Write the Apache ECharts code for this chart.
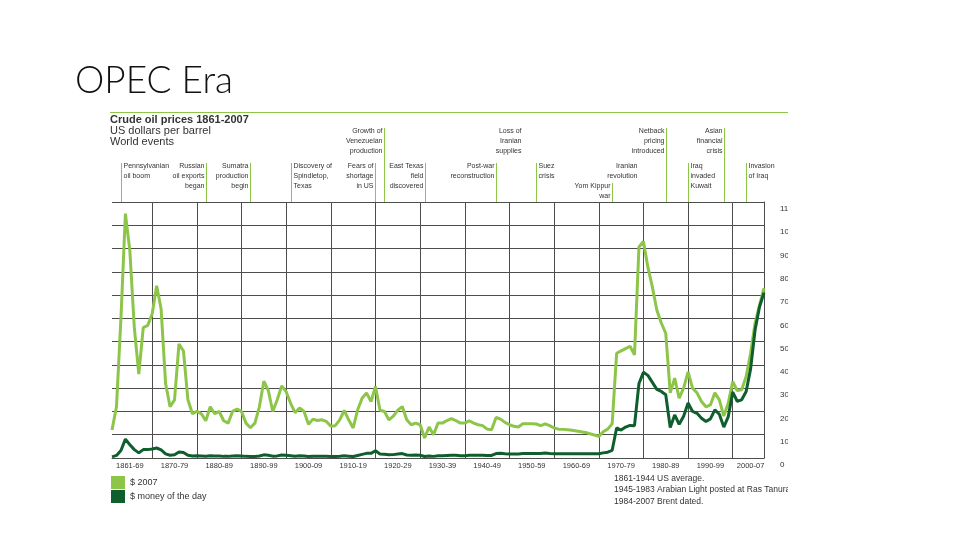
<!DOCTYPE html>
<html>
<head>
<meta charset="utf-8">
<title>OPEC Era</title>
<script src="https://cdn.jsdelivr.net/npm/echarts@6/dist/echarts.min.js"></script>
<style>
  html, body { margin: 0; padding: 0; background: #fff; }
  #chart { width: 960px; height: 540px; }
</style>
</head>
<body>
<div id="chart"></div>
<script>
// one category per year, 1861 .. 2007
const years = [];
for (let y = 1861; y <= 2007; y++) years.push(String(y));

// $ 2007 (light green)
const price2007 = [
  12, 22, 60, 105, 89, 56, 36, 56, 57,                        // 1861-69
  62, 74, 64, 32, 22, 25, 49, 46, 25, 19,                      // 1870s
  20, 19, 16, 22, 19, 20, 16, 15, 20, 21,                      // 1880s
  20, 15, 13, 15, 22, 33, 29, 20, 25, 31,                      // 1890s
  28.5, 23.5, 19.5, 21.5, 20, 14.5, 16.7, 16.1, 16.4, 15.7,    // 1900s
  13.6, 13.9, 16.4, 20.4, 16.4, 12.9, 20.6, 25.7, 27.9, 24.3,  // 1910s
  30.7, 20.6, 20, 16.4, 18, 20.6, 22.1, 16.4, 14.3, 15,        // 1920s
  14.3, 8.6, 13.3, 10, 15, 15, 16.1, 16.9, 16.1, 15,           // 1930s
  15, 16, 15, 14.3, 13.9, 12.4, 12.1, 17.4, 16.7, 15.3,        // 1940s
  14.3, 13.6, 13.3, 14.7, 14.7, 14.7, 14.6, 13.9, 14.7, 13.9,  // 1950s
  12.9, 12.4, 12.3, 12.1, 11.9, 11.6, 11.3, 11.0, 10.4, 9.9,   // 1960s
  9.3, 11.3, 12.4, 14.7, 45, 46, 47, 48, 44.3, 90.7,           // 1970s
  93, 82, 73.5, 63.6, 58, 53.6, 28, 34.3, 25.7, 30,            // 1980s
  37, 30, 28, 24.3, 22, 22.8, 28, 25, 18, 23.6,                // 1990s
  32.8, 29, 29.3, 35, 45, 58, 65.7, 73                         // 2000-07
];

// $ money of the day (dark green)
const priceMoneyOfDay = [
  0.5, 1.1, 3.2, 8.1, 5.7, 3.6, 2.2, 3.6, 3.6,
  3.9, 4.3, 3.5, 1.8, 1.2, 1.4, 2.6, 2.4, 1.2, 0.9,
  0.95, 0.9, 0.8, 1.0, 0.85, 0.9, 0.7, 0.7, 0.9, 0.95,
  0.9, 0.7, 0.6, 0.65, 0.85, 1.35, 1.2, 0.8, 0.9, 1.3,
  1.2, 1.0, 0.8, 0.95, 0.85, 0.6, 0.75, 0.7, 0.7, 0.7,
  0.6, 0.6, 0.75, 0.95, 0.8, 0.65, 1.1, 1.55, 2.0, 2.0,
  3.1, 1.75, 1.6, 1.35, 1.45, 1.7, 1.9, 1.3, 1.2, 1.3,
  1.2, 0.65, 0.9, 0.7, 1.0, 1.0, 1.1, 1.2, 1.15, 1.0,
  1.0, 1.15, 1.2, 1.2, 1.2, 1.05, 1.1, 1.9, 2.0, 1.8,
  1.7, 1.7, 1.7, 1.9, 1.9, 1.9, 1.9, 1.9, 2.1, 1.9,
  1.8, 1.8, 1.8, 1.8, 1.8, 1.8, 1.8, 1.8, 1.8, 1.8,
  1.8, 2.2, 2.5, 3.3, 12.9, 12, 13.3, 14, 13.9, 32,
  36.8, 35.5, 32.5, 29.5, 28.6, 27.2, 13.1, 18.5, 14.5, 17.9,
  23.6, 20, 19.2, 17.1, 15.7, 16.8, 20.7, 18.8, 13.3, 17.8,
  28.3, 24.4, 25, 28.6, 38.3, 55, 65, 71
];

// decade tick labels and the year each one sits on
const decadeLabels = ['1861-69', '1870-79', '1880-89', '1890-99', '1900-09', '1910-19', '1920-29',
  '1930-39', '1940-49', '1950-59', '1960-69', '1970-79', '1980-89', '1990-99', '2000-07'];
const decadeLabelYears = ['1865', '1875', '1885', '1895', '1905', '1915', '1925',
  '1935', '1945', '1955', '1965', '1975', '1985', '1995', '2004'];

// world events above the plot
const events = [
  { year: 1863, text: 'Pennsylvanian\noil boom', side: 'right', row: 'low' },
  { year: 1882, text: 'Russian\noil exports\nbegan', side: 'left', row: 'low' },
  { year: 1892, text: 'Sumatra\nproduction\nbegin', side: 'left', row: 'low' },
  { year: 1901, text: 'Discovery of\nSpindletop,\nTexas', side: 'right', row: 'low' },
  { year: 1920, text: 'Fears of\nshortage\nin US', side: 'left', row: 'low' },
  { year: 1922, text: 'Growth of\nVenezuelan\nproduction', side: 'left', row: 'high' },
  { year: 1931, text: 'East Texas\nfield\ndiscovered', side: 'left', row: 'low' },
  { year: 1947, text: 'Post-war\nreconstruction', side: 'left', row: 'low' },
  { year: 1953, text: 'Loss of\nIranian\nsupplies', side: 'left', row: 'high', noLine: true },
  { year: 1956, text: 'Suez\ncrisis', side: 'right', row: 'low' },
  { year: 1973, text: 'Yom Kippur\nwar', side: 'left', row: 'lower' },
  { year: 1979, text: 'Iranian\nrevolution', side: 'left', row: 'low', noLine: true },
  { year: 1985, text: 'Netback\npricing\nintroduced', side: 'left', row: 'high' },
  { year: 1990, text: 'Iraq\ninvaded\nKuwait', side: 'right', row: 'low' },
  { year: 1998, text: 'Asian\nfinancial\ncrisis', side: 'left', row: 'high' },
  { year: 2003, text: 'Invasion\nof Iraq', side: 'right', row: 'low' }
];

const footnotes = ['1861-1944 US average.', '1945-1983 Arabian Light posted at Ras Tanura.', '1984-2007 Brent dated.'];

const LIGHT = '#8cc548';
const DARK = '#0e5f2d';
const GRID = '#4d4d4d';
const TXT = '#333';
const SMALL = "'Liberation Sans Narrow', 'Liberation Sans', sans-serif";
const SANS = "'Liberation Sans', Arial, sans-serif";

const rowLayout = {
  high: { textTop: 126, lineTop: 128 },
  low: { textTop: 161, lineTop: 163 },
  lower: { textTop: 181, lineTop: 183 }
};

const chart = echarts.init(document.getElementById('chart'), null, { renderer: 'canvas' });

const option = {
  backgroundColor: '#fff',
  animation: false,
  title: [
    {
      text: 'OPEC Era', left: 70, top: 58,
      textStyle: { fontFamily: 'Lato, "Open Sans", sans-serif', fontWeight: 300, fontSize: 37, color: '#111' }
    },
    {
      text: 'Crude oil prices 1861-2007', left: 110, top: 114,
      textStyle: { fontFamily: SANS, fontWeight: 'bold', fontSize: 11, color: TXT },
      subtext: 'US dollars per barrel\nWorld events', itemGap: 0,
      subtextStyle: { fontFamily: SANS, fontSize: 11, lineHeight: 11, color: TXT },
      padding: 0
    }
  ],
  legend: {
    orient: 'vertical', left: 111, top: 476, padding: 0,
    icon: 'rect', itemWidth: 14, itemHeight: 13, itemGap: 1,
    textStyle: { fontFamily: SANS, fontSize: 9, color: TXT },
    data: ['$ 2007', '$ money of the day']
  },
  grid: { left: 112, right: 196, top: 202, bottom: 82 },
  xAxis: {
    type: 'category',
    data: years,
    boundaryGap: false,
    axisLine: { show: true, lineStyle: { color: GRID, width: 1 } },
    axisTick: { show: false },
    axisLabel: {
      interval: (i, v) => decadeLabelYears.indexOf(v) >= 0,
      formatter: v => decadeLabels[decadeLabelYears.indexOf(v)],
      fontFamily: SMALL, fontSize: 7.5, color: TXT, margin: 4
    },
    splitLine: {
      show: true,
      interval: (i, v) => i > 0 && Number(v) % 10 === 0,
      lineStyle: { color: GRID, width: 1 }
    }
  },
  yAxis: {
    type: 'value',
    position: 'right',
    min: 0, max: 110, interval: 10,
    axisLine: { show: true, lineStyle: { color: GRID, width: 1 } },
    axisTick: { show: false },
    axisLabel: {
      fontFamily: SMALL, fontSize: 8, color: TXT, margin: 16,
      align: 'left', verticalAlign: 'top', padding: [3, 0, 0, 0]
    },
    splitLine: { show: true, lineStyle: { color: GRID, width: 1 } }
  },
  series: [
    {
      name: '$ 2007', type: 'line', data: price2007, symbol: 'none',
      color: LIGHT, itemStyle: { color: LIGHT },
      lineStyle: { color: LIGHT, width: 3 }, z: 3
    },
    {
      name: '$ money of the day', type: 'line', data: priceMoneyOfDay, symbol: 'none',
      color: DARK, itemStyle: { color: DARK },
      lineStyle: { color: DARK, width: 3 }, z: 4
    }
  ]
};

chart.setOption(option);

// annotations: event texts/lines, top rule, footnotes, right-edge crop
function buildGraphics() {
  const plotTop = chart.convertToPixel({ yAxisIndex: 0 }, 110);
  const g = [];
  g.push({
    type: 'line', silent: true,
    shape: { x1: 110, y1: 112.5, x2: 788, y2: 112.5 },
    style: { stroke: LIGHT, lineWidth: 1 }
  });
  events.forEach(ev => {
    const x = Math.round(chart.convertToPixel({ xAxisIndex: 0 }, years.indexOf(String(ev.year)))) + 0.5;
    const r = rowLayout[ev.row];
    if (!ev.noLine) {
      g.push({
        type: 'line', silent: true,
        shape: { x1: x, y1: r.lineTop, x2: x, y2: plotTop },
        style: { stroke: LIGHT, lineWidth: 1 }
      });
    }
    g.push({
      type: 'text', silent: true,
      x: ev.side === 'right' ? x + 2 : x - 2, y: r.textTop,
      style: {
        text: ev.text, fill: TXT, fontFamily: SMALL, fontSize: 7, lineHeight: 10,
        align: ev.side === 'right' ? 'left' : 'right', verticalAlign: 'top'
      }
    });
  });
  footnotes.forEach((t, i) => {
    g.push({
      type: 'text', silent: true, x: 614, y: 474 + i * 11.5,
      style: { text: t, fill: TXT, fontFamily: SANS, fontSize: 8.5, verticalAlign: 'top' }
    });
  });
  // the source image is cut off at its right edge
  g.push({
    type: 'rect', silent: true, z: 100,
    shape: { x: 788, y: 100, width: 172, height: 420 },
    style: { fill: '#fff' }
  });
  return g;
}

chart.setOption({ graphic: buildGraphics() });
</script>
</body>
</html>
